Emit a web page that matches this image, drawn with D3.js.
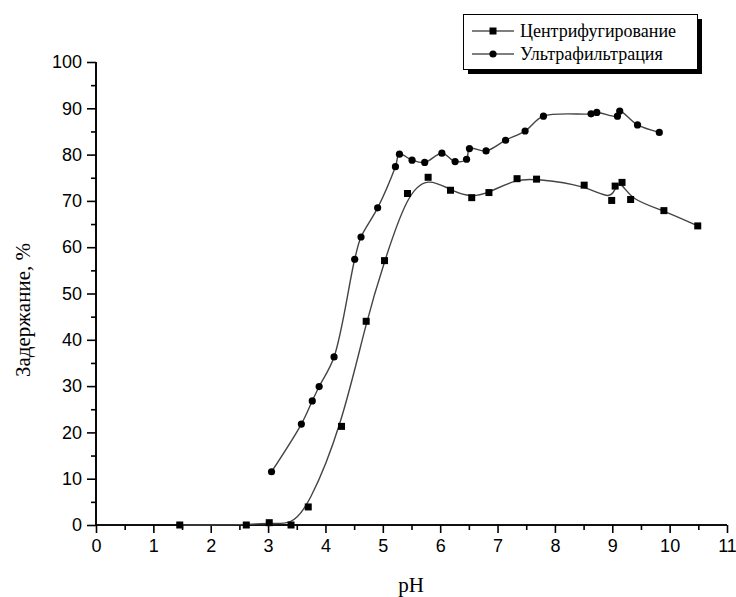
<!DOCTYPE html>
<meta charset="utf-8">
<style>
body { margin: 0; background: #fff; }
.axis path, .axis line { stroke: #000; stroke-width: 1.6px; fill: none; }
.axis text { font-family: "Liberation Sans", Arial, sans-serif; font-size: 18px; fill: #000; }
.title { font-family: "Liberation Serif", "Times New Roman", serif; font-size: 21px; fill: #000; }
.legend text { font-family: "Liberation Serif", "Times New Roman", serif; font-size: 18px; fill: #000; }
</style>
<svg width="736" height="597"></svg>
<script src="https://d3js.org/d3.v7.min.js"></script>
<script>

  // Центрифугирование (squares)
  var phCentr  = [1.46, 2.62, 3.02, 3.40, 3.70, 4.28, 4.71, 5.03, 5.43, 5.79, 6.18, 6.55, 6.85, 7.34, 7.68, 8.51, 8.99, 9.05, 9.17, 9.32, 9.90, 10.49];
  var retCentr = [0, 0, 0.5, 0, 3.9, 21.3, 44.0, 57.1, 71.6, 75.1, 72.3, 70.7, 71.8, 74.8, 74.7, 73.4, 70.1, 73.2, 74.0, 70.3, 67.9, 64.6];

  // Ультрафильтрация (circles)
  var phUltra  = [3.06, 3.58, 3.77, 3.89, 4.15, 4.51, 4.62, 4.91, 5.22, 5.29, 5.51, 5.73, 6.03, 6.26, 6.46, 6.51, 6.80, 7.14, 7.48, 7.80, 8.63, 8.73, 9.09, 9.13, 9.44, 9.82];
  var retUltra = [11.5, 21.8, 26.8, 29.9, 36.3, 57.4, 62.2, 68.5, 77.4, 80.1, 78.8, 78.3, 80.3, 78.5, 79.0, 81.3, 80.8, 83.1, 85.1, 88.3, 88.8, 89.1, 88.3, 89.4, 86.4, 84.8];

  var seriesNames = ["Центрифугирование", "Ультрафильтрация"];
  var xTicks = d3.range(0, 12, 1);
  var yTicks = d3.range(0, 101, 10);

  var svg = d3.select("svg");
  var x = d3.scaleLinear().domain([0, 11]).range([96, 727]);
  var y = d3.scaleLinear().domain([0, 100]).range([525, 62]);

  var centr = phCentr.map(function(p, i) { return [p, retCentr[i]]; });
  var ultra = phUltra.map(function(p, i) { return [p, retUltra[i]]; });

  // axes: major ticks + half-step minor ticks
  var gx = svg.append("g").attr("class", "axis").attr("transform", "translate(0,525)");
  gx.call(d3.axisBottom(x).tickValues(d3.range(0.5, 11, 1)).tickSize(5).tickFormat("").tickSizeOuter(0));
  gx.append("g").call(d3.axisBottom(x).tickValues(xTicks).tickSize(8).tickPadding(6).tickFormat(d3.format("d")).tickSizeOuter(0));
  gx.selectAll(".domain").attr("d", "M96,0H727");

  var gy = svg.append("g").attr("class", "axis").attr("transform", "translate(96,0)");
  gy.call(d3.axisLeft(y).tickValues(d3.range(5, 100, 10)).tickSize(5).tickFormat("").tickSizeOuter(0));
  gy.append("g").call(d3.axisLeft(y).tickValues(yTicks).tickSize(9).tickPadding(5).tickFormat(d3.format("d")).tickSizeOuter(0));
  gy.selectAll(".domain").attr("d", "M0,62V525");

  svg.append("text").attr("class", "title")
      .attr("transform", "translate(30,310) rotate(-90)")
      .attr("text-anchor", "middle")
      .text("Задержание, %");
  svg.append("text").attr("class", "title")
      .attr("x", 411).attr("y", 592)
      .attr("text-anchor", "middle")
      .text("pH");

  var lineBasis = d3.line().x(function(d) { return x(d[0]); }).y(function(d) { return y(d[1]); }).curve(d3.curveBasis);
  var lineCR = d3.line().x(function(d) { return x(d[0]); }).y(function(d) { return y(d[1]); }).curve(d3.curveCatmullRom);

  svg.append("path").datum(centr).attr("d", lineBasis)
      .attr("fill", "none").attr("stroke", "#444").attr("stroke-width", 1.4);
  svg.append("path").datum(ultra).attr("d", lineCR)
      .attr("fill", "none").attr("stroke", "#444").attr("stroke-width", 1.4);

  svg.append("g").selectAll("rect").data(centr).enter().append("rect")
      .attr("x", function(d) { return x(d[0]) - 3.5; })
      .attr("y", function(d) { return y(d[1]) - 3.5; })
      .attr("width", 7).attr("height", 7).attr("fill", "#000");
  svg.append("g").selectAll("circle").data(ultra).enter().append("circle")
      .attr("cx", function(d) { return x(d[0]); })
      .attr("cy", function(d) { return y(d[1]); })
      .attr("r", 3.6).attr("fill", "#000");

  // legend with drop shadow
  var lg = svg.append("g").attr("class", "legend");
  lg.append("rect").attr("x", 468).attr("y", 19).attr("width", 234).attr("height", 55).attr("fill", "#000");
  lg.append("rect").attr("x", 463.5).attr("y", 14.5).attr("width", 234).attr("height", 55)
      .attr("fill", "#fff").attr("stroke", "#000").attr("stroke-width", 1);
  seriesNames.forEach(function(name, i) {
    var ly = 31 + i * 23;
    lg.append("line").attr("x1", 472).attr("x2", 514).attr("y1", ly).attr("y2", ly)
        .attr("stroke", "#000").attr("stroke-width", 1.2);
    if (i === 0) {
      lg.append("rect").attr("x", 489.5).attr("y", ly - 3.5).attr("width", 7).attr("height", 7).attr("fill", "#000");
    } else {
      lg.append("circle").attr("cx", 493).attr("cy", ly).attr("r", 3.6).attr("fill", "#000");
    }
    lg.append("text").attr("x", 520).attr("y", ly + 6).text(name);
  });

</script>
